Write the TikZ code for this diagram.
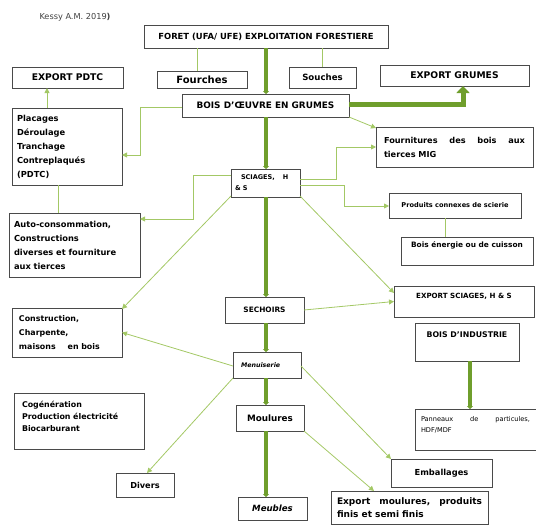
\documentclass[tikz,border=0pt]{standalone}
\usepackage{fontspec}
\setmainfont{DejaVu Sans}
\usetikzlibrary{arrows.meta}
\definecolor{dgreen}{HTML}{6F9E2C}
\definecolor{lgreen}{HTML}{A3C865}
\definecolor{bord}{HTML}{4A4A4A}
\begin{document}
\begin{tikzpicture}[x=1pt,y=-1pt,
  box/.style={draw=bord, line width=0.6pt, anchor=north west, inner sep=2pt, outer sep=0pt, font=\bfseries},
  lbox/.style={box, align=left, inner xsep=5pt},
  thinl/.style={draw=lgreen, line width=0.8pt},
  thinarr/.style={thinl, -{Triangle[length=5pt,width=5pt]}},
  spine/.style={draw=dgreen, line width=3.5pt, -{Triangle[length=3pt,width=6pt]}}]
\useasboundingbox (0,0) rectangle (536,525);

\node[font=\fontsize{8.2}{10}\selectfont, text=black!75] (kessy) at (75,17) {Kessy A.M. 2019\textbf{)}};

% boxes
\node[box, minimum width=244, minimum height=23, font=\bfseries\fontsize{8.4}{10}\selectfont] (foret) at (144,25) {FORET (UFA/ UFE) EXPLOITATION FORESTIERE};
\node[box, minimum width=90, minimum height=17, font=\bfseries\fontsize{10}{12}\selectfont] (fourches) at (157,71) {Fourches};
\node[box, minimum width=67, minimum height=21, font=\bfseries\fontsize{8.6}{10}\selectfont] (souches) at (289,67) {Souches};
\node[box, minimum width=111, minimum height=21, font=\bfseries\fontsize{9.2}{11}\selectfont] (exppdtc) at (12,67) {EXPORT PDTC};
\node[box, minimum width=149, minimum height=21, font=\bfseries\fontsize{9.2}{11}\selectfont] (expgrumes) at (380,65) {EXPORT GRUMES};
\node[box, minimum width=167, minimum height=23, font=\bfseries\fontsize{8.9}{11}\selectfont] (bois) at (182,94) {BOIS D'ŒUVRE EN GRUMES};
\node[lbox, text width=100, minimum height=77, font=\bfseries\fontsize{8.3}{14}\selectfont] (placages) at (12,108) {Placages\\Déroulage\\Tranchage\\Contreplaqués\\(PDTC)};
\node[lbox, text width=121, minimum height=64, inner xsep=5pt, font=\bfseries\fontsize{8.3}{14}\selectfont] (auto) at (9,213) {Auto-consommation,\\Constructions\\diverses et fourniture\\aux tierces};
\node[box, text width=61, minimum height=28, align=left, inner xsep=4pt, font=\bfseries\fontsize{6.5}{11}\selectfont] (sciages) at (231,169) {\hspace*{6pt}SCIAGES,\hspace{8pt}H\\\& S};
\node[box, text width=141, minimum height=40, align=justify, inner xsep=8pt, font=\bfseries\fontsize{8.2}{14}\selectfont] (fournitures) at (376,127) {Fournitures\hfill des\hfill bois\hfill aux\\tierces MIG};
\node[box, minimum width=132, minimum height=25, font=\bfseries\fontsize{6.6}{8}\selectfont] (produits) at (389,193) {Produits connexes de scierie};
\node[box, minimum width=132, inner ysep=0pt, text height=10pt, text depth=18pt, font=\bfseries\fontsize{7.4}{9}\selectfont] (energie) at (401,237) {Bois énergie ou de cuisson};
\node[box, minimum width=79, minimum height=26, font=\bfseries\fontsize{7.4}{9}\selectfont] (sechoirs) at (225,297) {SECHOIRS};
\node[box, text width=52, minimum height=26, align=left, inner xsep=8pt, font=\bfseries\itshape\fontsize{6.3}{8}\selectfont] (menuiserie) at (233,352) {Menuiserie};
\node[box, minimum width=68, minimum height=26, font=\bfseries\fontsize{8.8}{10}\selectfont] (moulures) at (236,405) {Moulures};
\node[box, minimum width=69, minimum height=23, font=\bfseries\itshape\fontsize{8.6}{10}\selectfont] (meubles) at (238,497) {Meubles};
\node[box, minimum width=140, inner ysep=0pt, text height=12pt, text depth=19pt, font=\bfseries\fontsize{7.1}{9}\selectfont] (expsciages) at (394,286) {EXPORT SCIAGES, H \& S};
\node[box, minimum width=104, inner ysep=0pt, text height=14pt, text depth=24pt, font=\bfseries\fontsize{7.8}{9}\selectfont] (boisind) at (415,323) {BOIS D'INDUSTRIE};
\node[box, text width=109, inner ysep=0pt, text height=12pt, text depth=29pt, align=justify, inner xsep=6pt, font=\fontsize{6.6}{11.5}\selectfont] (panneaux) at (415,409) {Panneaux\hfill de\hfill particules,\\HDF/MDF};
\node[box, minimum width=101, minimum height=28, font=\bfseries\fontsize{8.3}{10}\selectfont] (emballages) at (391,459) {Emballages};
\node[box, text width=145, minimum height=33, align=justify, inner xsep=6pt, font=\bfseries\fontsize{9}{13}\selectfont] (expmoul) at (331,491) {Export\hfill moulures,\hfill produits\\finis et semi finis};
\node[lbox, text width=96, minimum height=49, inner xsep=7pt, font=\bfseries\fontsize{7.9}{14}\selectfont] (construction) at (12,308) {Construction,\\Charpente,\\maisons\hspace{12pt}en bois};
\node[lbox, text width=114, inner ysep=0pt, text height=14pt, text depth=42pt, inner xsep=8pt, font=\bfseries\fontsize{7.9}{12}\selectfont] (cogen) at (14,393) {Cogénération\\Production électricité\\Biocarburant};
\node[box, minimum width=58, minimum height=24, font=\bfseries\fontsize{8.2}{10}\selectfont] (divers) at (116,473) {Divers};

% spine
\draw[spine] (foret.south) -- (foret.south |- bois.north);
\draw[spine] (foret.south |- bois.south) -- (foret.south |- sciages.north);
\draw[spine] (foret.south |- sciages.south) -- (foret.south |- sechoirs.north);
\draw[spine] (foret.south |- sechoirs.south) -- (foret.south |- menuiserie.north);
\draw[spine] (foret.south |- menuiserie.south) -- (foret.south |- moulures.north);
\draw[spine] (foret.south |- moulures.south) -- (foret.south |- meubles.north);
\draw[draw=dgreen, line width=5pt, -{Triangle[length=7pt,width=13pt]}] ([yshift=1.5pt]bois.east) -| ([xshift=8.5pt]expgrumes.south);
\draw[spine] ([xshift=3pt]boisind.south) -- ([xshift=3pt]boisind.south |- panneaux.north);

% thin plain lines
\draw[thinl] ([xshift=-5pt]fourches.north) -- ([xshift=-5pt]fourches.north |- foret.south);
\draw[thinl] (souches.north) -- (souches.north |- foret.south);
\draw[thinl] ([xshift=46pt]placages.south west) -- ([xshift=46pt]placages.south west |- auto.north);
\draw[thinl] ([xshift=-10pt]produits.south) -- ([xshift=-10pt]produits.south |- energie.north);

% thin arrows
\coordinate (c1) at (140,155);
\coordinate (c2) at (193,219);
\coordinate (c3) at (336,147);
\coordinate (c4) at (344,206);
\draw[thinarr] ([xshift=35pt]placages.north west) -- ([xshift=35pt]placages.north west |- exppdtc.south);
\draw[thinarr] ([yshift=-1.5pt]bois.west) -| (c1) -- (c1 -| placages.east);
\draw[thinarr] ([yshift=8pt]sciages.west) -| (c2) -- (c2 -| auto.east);
\draw[thinarr] (bois.south east) -- ([yshift=19pt]fournitures.west);
\draw[thinarr] ([yshift=4pt]sciages.east) -| (c3) -- (c3 -| fournitures.west);
\draw[thinarr] ([yshift=-2pt]sciages.east) -| (c4) -- (c4 -| produits.west);
\draw[thinarr] ([yshift=1pt]sciages.south west) -- ([yshift=-1pt]construction.north east);
\draw[thinarr] ([yshift=1pt]sciages.south east) -- ([yshift=8.5pt]expsciages.west);
\draw[thinarr] (sechoirs.east) -- (expsciages.west);
\draw[thinarr] ([yshift=-1pt]menuiserie.west) -- (construction.east);
\draw[thinarr] (menuiserie.south west) -- ([xshift=2pt]divers.north);
\draw[thinarr] ([yshift=-1pt]menuiserie.east) -- (emballages.north west);
\draw[thinarr] (moulures.south east) -- ([xshift=43pt]expmoul.north west);
\end{tikzpicture}
\end{document}
